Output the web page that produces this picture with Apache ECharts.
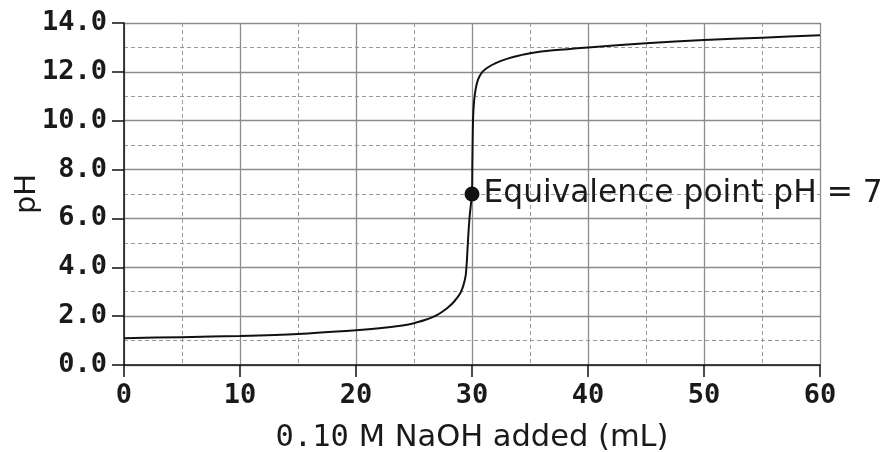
<!DOCTYPE html>
<html>
<head>
<meta charset="utf-8">
<script src="https://cdn.jsdelivr.net/npm/echarts@6/dist/echarts.min.js"></script>
<style>
html,body{margin:0;padding:0;background:#fff;}
#chart{width:889px;height:452px;}
</style>
</head>
<body>
<div id="chart"></div>
<script>
// NaOH volume added (mL)
const volume = [0, 5, 10, 15, 20, 22, 24, 25, 26, 26.5, 27, 27.5, 28, 28.5, 29, 29.25, 29.45, 29.55, 29.62, 29.7, 29.8, 29.9, 30, 30.03, 30.06, 30.1, 30.18, 30.3, 30.45, 30.65, 30.9, 31.2, 31.6, 32, 32.5, 33, 34, 35, 37, 40, 45, 50, 55, 60];
// measured pH
const pH = [1.10, 1.14, 1.19, 1.27, 1.42, 1.50, 1.62, 1.71, 1.85, 1.94, 2.05, 2.20, 2.38, 2.62, 2.95, 3.25, 3.65, 4.20, 4.80, 5.45, 6.10, 6.55, 7.00, 8.20, 9.30, 10.20, 10.80, 11.25, 11.58, 11.82, 12.00, 12.13, 12.25, 12.35, 12.45, 12.53, 12.66, 12.76, 12.88, 13.00, 13.17, 13.30, 13.40, 13.50];
// equivalence point
const eqVolume = 30;
const eqPH = 7;
const eqLabel = 'Equivalence point pH = 7';
const xTitle = '{m|0.10} M NaOH added (mL)';
const yTitle = 'pH';

const curve = volume.map((v, i) => [v, pH[i]]);

const chart = echarts.init(document.getElementById('chart'), null, {renderer: 'canvas'});
const gridGrey = '#8c8c8c';
const dashGrey = '#9a9a9a';
const textCol = '#1a1a1a';

chart.setOption({
  animation: false,
  backgroundColor: '#fff',
  grid: {left: 124, right: 69, top: 23, bottom: 87, containLabel: false, outerBoundsMode: 'none'},
  xAxis: {
    type: 'value', min: 0, max: 60, interval: 10,
    name: xTitle, nameLocation: 'middle', nameGap: 58, nameMoveOverlap: false,
    nameTextStyle: {
      fontFamily: 'DejaVu Sans', fontSize: 30.5, color: textCol,
      rich: {m: {fontFamily: 'DejaVu Sans Mono', fontSize: 30.5, color: textCol}}
    },
    axisLine: {show: true, onZero: false, lineStyle: {color: '#111', width: 1.5}},
    axisTick: {show: true, inside: false, length: 12, lineStyle: {color: '#111', width: 1.5}},
    axisLabel: {fontFamily: 'DejaVu Sans Mono', fontWeight: 'bold', fontSize: 27, color: textCol, margin: 17},
    splitLine: {show: true, lineStyle: {color: gridGrey, width: 1.3}},
    minorTick: {show: false, splitNumber: 2},
    minorSplitLine: {show: true, lineStyle: {color: dashGrey, width: 1, type: [4, 3]}}
  },
  yAxis: {
    type: 'value', min: 0, max: 14, interval: 2,
    name: yTitle, nameLocation: 'middle', nameGap: 82, nameRotate: 90, nameMoveOverlap: false,
    nameTextStyle: {fontFamily: 'DejaVu Sans', fontSize: 29, color: textCol},
    axisLine: {show: true, onZero: false, lineStyle: {color: '#111', width: 1.5}},
    axisTick: {show: true, inside: false, length: 12, lineStyle: {color: '#111', width: 1.5}},
    axisLabel: {fontFamily: 'DejaVu Sans Mono', fontWeight: 'bold', fontSize: 27, color: textCol, margin: 17,
      padding: [5, 0, 0, 0],
      formatter: v => v.toFixed(1)},
    splitLine: {show: true, lineStyle: {color: gridGrey, width: 1.3}},
    minorTick: {show: false, splitNumber: 2},
    minorSplitLine: {show: true, lineStyle: {color: dashGrey, width: 1, type: [4, 3]}}
  },
  series: [
    {
      type: 'line', data: curve, showSymbol: false, symbol: 'none',
      smooth: 0.25,
      lineStyle: {color: '#111', width: 2},
      z: 3
    },
    {
      type: 'scatter', data: [[eqVolume, eqPH]], symbol: 'circle', symbolSize: 15,
      itemStyle: {color: '#111', opacity: 1},
      label: {show: true, position: 'right', distance: 4, formatter: eqLabel,
        fontFamily: 'DejaVu Sans', fontSize: 31.3, color: textCol, opacity: 1},
      z: 4
    }
  ]
});
</script>
</body>
</html>
